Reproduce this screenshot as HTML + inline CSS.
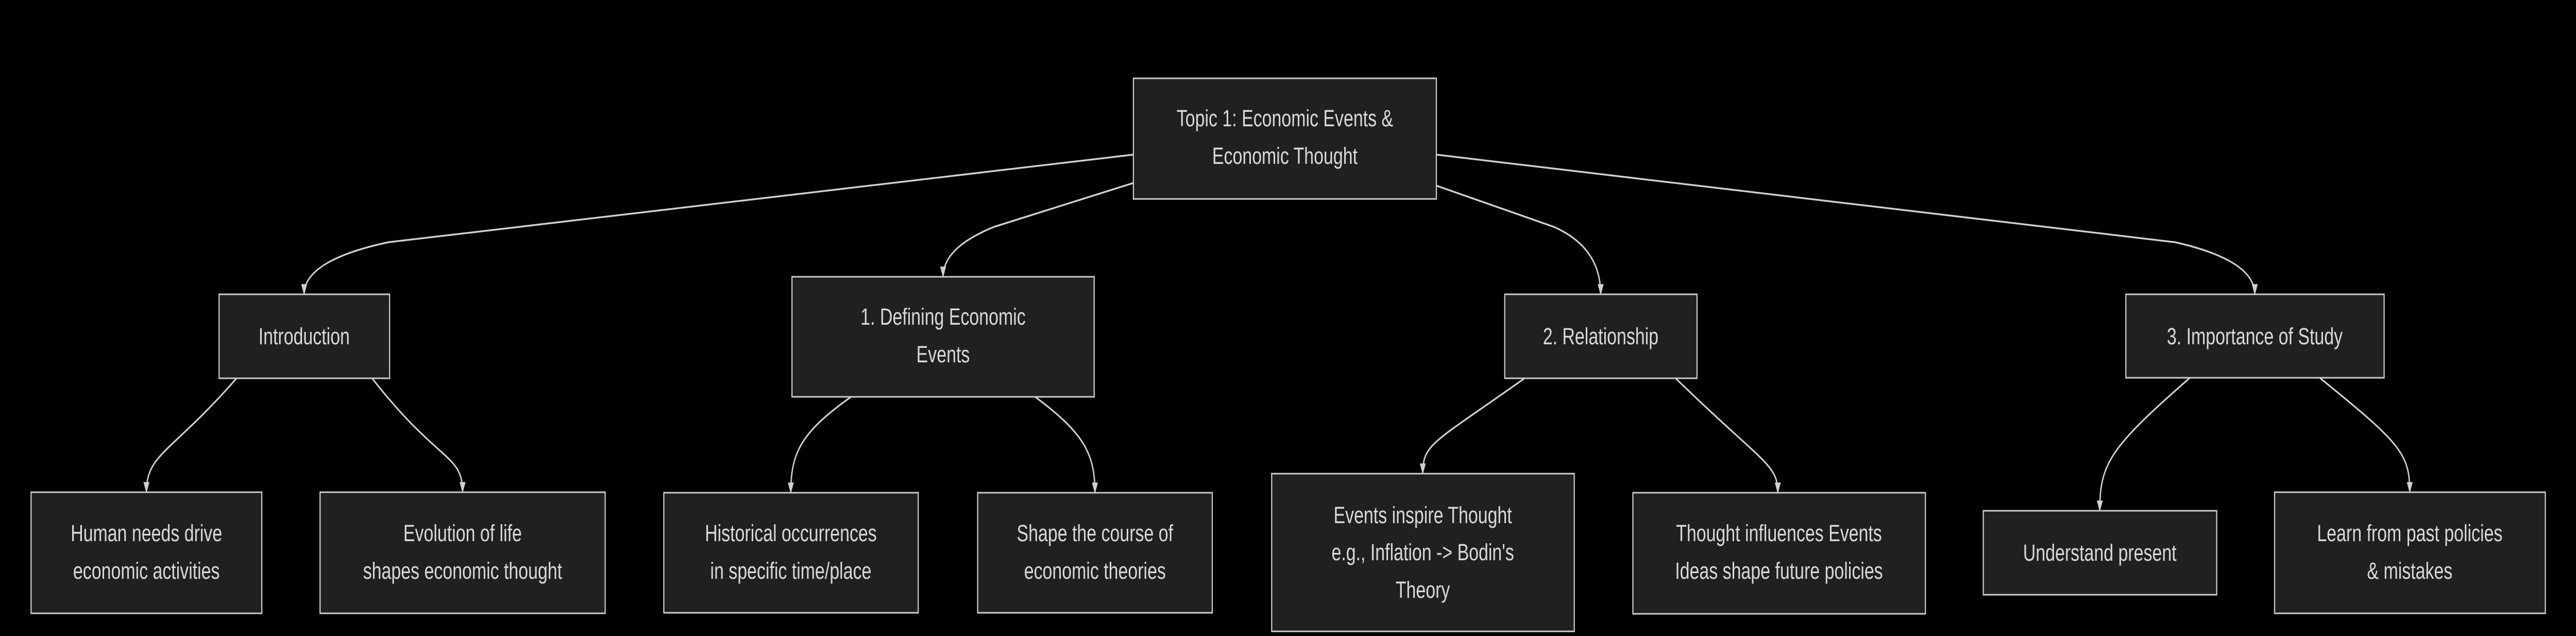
<!DOCTYPE html>
<html><head><meta charset="utf-8"><style>
html,body{margin:0;padding:0;background:#000;width:100%;height:100%;overflow:hidden;}
svg{display:block;width:100vw;height:100vh;}
text{font-family:"Liberation Sans",sans-serif;font-size:45px;fill:#d9d9d9;text-anchor:middle;}
rect{fill:#1f2020;stroke:#cccccc;stroke-width:3;}
path.e{fill:none;stroke:#d0d0d0;stroke-width:3.5;}
</style></head><body>
<svg viewBox="0 0 6632 1234" preserveAspectRatio="none" xmlns="http://www.w3.org/2000/svg">
<defs>
<marker id="b" viewBox="0 0 10 10" refX="9" refY="5" markerWidth="22" markerHeight="22" markerUnits="userSpaceOnUse" orient="auto"><path d="M0,1.5 L10,5 L0,8.5 z" fill="#d0d0d0"/></marker></defs>

<path class="e" marker-end="url(#b)" d="M2918,300 L1000,470 Q783,505 783,571"/>
<path class="e" marker-end="url(#b)" d="M2918,355 L2560,440 Q2428,480 2428,537"/>
<path class="e" marker-end="url(#b)" d="M3697,360 L4000,440 Q4121,480 4121,571"/>
<path class="e" marker-end="url(#b)" d="M3697,300 L5600,470 Q5805,505 5805,571"/>

<path class="e" marker-end="url(#b)" d="M609,734 C440,880 377,880 377,955"/>
<path class="e" marker-end="url(#b)" d="M958,734 C1130,900 1191,880 1191,955"/>
<path class="e" marker-end="url(#b)" d="M2191,770 C2060,840 2036,880 2036,956"/>
<path class="e" marker-end="url(#b)" d="M2665,770 C2790,840 2819,880 2819,956"/>
<path class="e" marker-end="url(#b)" d="M3925,734 C3690,860 3663,860 3663,919"/>
<path class="e" marker-end="url(#b)" d="M4314,734 C4540,900 4577,900 4577,956"/>
<path class="e" marker-end="url(#b)" d="M5638,733 C5430,870 5406,900 5406,991"/>
<path class="e" marker-end="url(#b)" d="M5972,733 C6180,860 6204,880 6204,955"/>

<rect x="2918" y="152" width="780" height="234"/>
<text x="3308" y="245">Topic 1: Economic Events &amp;</text>
<text x="3308" y="318">Economic Thought</text>

<rect x="564" y="571" width="439" height="163"/>
<text x="783" y="668">Introduction</text>

<rect x="2039" y="537" width="778" height="233"/>
<text x="2428" y="630">1. Defining Economic</text>
<text x="2428" y="703">Events</text>

<rect x="3874" y="571" width="495" height="163"/>
<text x="4121" y="668">2. Relationship</text>

<rect x="5473" y="571" width="665" height="162"/>
<text x="5805" y="668">3. Importance of Study</text>

<rect x="80" y="955" width="594" height="235"/>
<text x="377" y="1050">Human needs drive</text>
<text x="377" y="1123">economic activities</text>

<rect x="824" y="955" width="734" height="235"/>
<text x="1191" y="1050">Evolution of life</text>
<text x="1191" y="1123">shapes economic thought</text>

<rect x="1709" y="956" width="655" height="233"/>
<text x="2036" y="1050">Historical occurrences</text>
<text x="2036" y="1123">in specific time/place</text>

<rect x="2517" y="956" width="604" height="233"/>
<text x="2819" y="1050">Shape the course of</text>
<text x="2819" y="1123">economic theories</text>

<rect x="3274" y="919" width="779" height="306"/>
<text x="3663" y="1015">Events inspire Thought</text>
<text x="3663" y="1087">e.g., Inflation -&gt; Bodin's</text>
<text x="3663" y="1160">Theory</text>

<rect x="4204" y="956" width="753" height="235"/>
<text x="4580" y="1050">Thought influences Events</text>
<text x="4580" y="1123">Ideas shape future policies</text>

<rect x="5106" y="991" width="601" height="163"/>
<text x="5406" y="1088">Understand present</text>

<rect x="5856" y="955" width="697" height="235"/>
<text x="6204" y="1050">Learn from past policies</text>
<text x="6204" y="1123">&amp; mistakes</text>
</svg>
</body></html>
